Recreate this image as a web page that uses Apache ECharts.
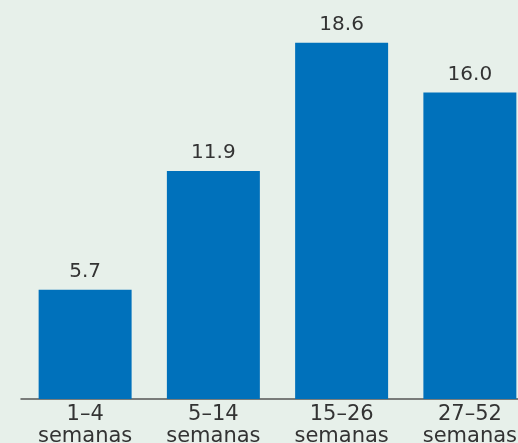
<!DOCTYPE html>
<html>
<head>
<meta charset="utf-8">
<script src="https://cdn.jsdelivr.net/npm/echarts@6/dist/echarts.min.js"></script>
<style>
html,body{margin:0;padding:0;background:#e7f0ea;}
#c{width:518px;height:443px;}
</style>
</head>
<body>
<div id="c"></div>
<script>
const categories = ['1–4\nsemanas', '5–14\nsemanas', '15–26\nsemanas', '27–52\nsemanas'];
const values = [5.7, 11.9, 18.6, 16.0];

const chart = echarts.init(document.getElementById('c'));
chart.setOption({
  backgroundColor: '#e7f0ea',
  animation: false,
  grid: { left: 21, width: 513, top: 16, height: 383, containLabel: false, outerBoundsMode: 'none' },
  xAxis: {
    type: 'category',
    data: categories,
    axisLine: { show: true, lineStyle: { color: '#555', width: 1.5 } },
    axisTick: { show: false },
    axisLabel: {
      color: '#333', fontFamily: 'DejaVu Sans', fontSize: 21, lineHeight: 22, margin: 5, interval: 0
    }
  },
  yAxis: {
    type: 'value', min: 0, max: 20,
    show: false,
    splitLine: { show: false }
  },
  series: [{
    type: 'bar',
    data: values,
    barWidth: '72.5%',
    itemStyle: { color: '#0071bb' },
    label: {
      show: true, position: 'top', distance: 8,
      color: '#333', fontFamily: 'DejaVu Sans', fontSize: 20,
      formatter: p => p.value.toFixed(1)
    }
  }]
});
</script>
</body>
</html>
